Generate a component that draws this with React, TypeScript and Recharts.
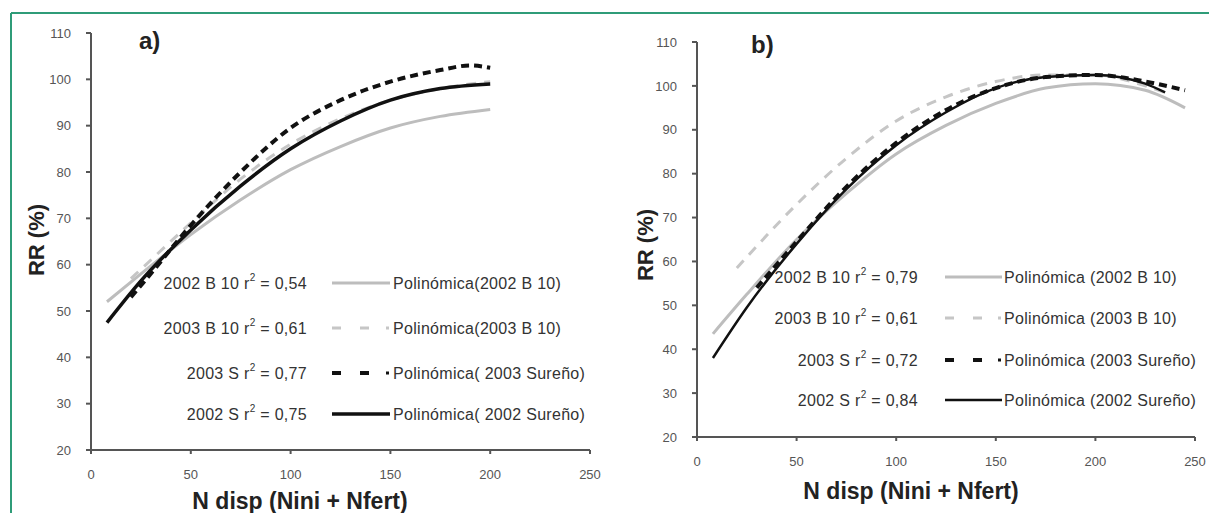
import React from "react";
import { LineChart, Line, XAxis, YAxis } from "recharts";

const FONT = "'Liberation Sans', Arial, sans-serif";

const xTicks = [0, 50, 100, 150, 200, 250];
const yTicks = [20, 30, 40, 50, 60, 70, 80, 90, 100, 110];

// panel a) curves (N disp vs RR %)
const aX2002B10 = [8, 25, 50, 75, 100, 125, 150, 175, 200];
const aY2002B10 = [52, 58, 66.5, 74, 80.5, 85.5, 89.5, 92, 93.5];
const aX2003B10 = [20, 25, 50, 75, 100, 125, 150, 175, 200];
const aY2003B10 = [57, 59, 69, 78.5, 86, 91.5, 95.5, 98, 99.5];
const aX2003S = [20, 25, 50, 75, 100, 125, 150, 175, 190, 200];
const aY2003S = [53, 55.5, 68.5, 80, 89.5, 95.5, 99.5, 102, 103, 102.5];
const aX2002S = [8, 25, 50, 75, 100, 125, 150, 175, 200];
const aY2002S = [47.5, 56.5, 67.5, 77, 85, 91, 95.5, 98, 99];

// panel b) curves
const bX2002B10 = [8, 25, 50, 75, 100, 125, 150, 175, 200, 225, 245];
const bY2002B10 = [43.5, 52.5, 65, 75.5, 84.5, 91, 96, 99.5, 100.5, 99, 95];
const bX2003B10 = [20, 25, 50, 75, 100, 125, 150, 175, 200, 225, 235];
const bY2003B10 = [58.5, 61, 73, 83.5, 92, 97.5, 101, 102.5, 102.5, 100, 98.5];
const bX2003S = [30, 50, 75, 100, 125, 150, 175, 200, 225, 245];
const bY2003S = [54, 64.5, 77, 87, 94.5, 99.5, 102, 102.5, 101, 99];
const bX2002S = [8, 25, 50, 75, 100, 125, 150, 175, 200, 225, 235];
const bY2002S = [38, 49.5, 64, 76.5, 86.5, 94, 99.5, 102, 102.5, 100.5, 98.5];

const aLabels = ["2002 B 10", "2003 B 10", "2003 S", "2002 S"];
const aR2 = ["0,54", "0,61", "0,77", "0,75"];
const aNames = [
  "Polinómica(2002 B 10)",
  "Polinómica(2003 B 10)",
  "Polinómica( 2003 Sureño)",
  "Polinómica( 2002 Sureño)",
];
const bLabels = ["2002 B 10", "2003 B 10", "2003 S", "2002 S"];
const bR2 = ["0,79", "0,61", "0,72", "0,84"];
const bNames = [
  "Polinómica (2002 B 10)",
  "Polinómica (2003 B 10)",
  "Polinómica (2003 Sureño)",
  "Polinómica (2002 Sureño)",
];

const pts = (xs: number[], ys: number[]) => xs.map((x, i) => ({ x, y: ys[i] }));

const styles = [
  { stroke: "#bdbdbd", width: 3, dash: undefined as string | undefined },
  { stroke: "#c6c6c6", width: 3, dash: "10 8" },
  { stroke: "#111", width: 4, dash: "8 5" },
  { stroke: "#111", width: 3.5, dash: undefined as string | undefined },
];

function Panel({
  left,
  width,
  margin,
  series,
  thin,
}: {
  left: number;
  width: number;
  margin: { top: number; right: number; bottom: number; left: number };
  series: { x: number; y: number }[][];
  thin?: boolean;
}) {
  return (
    <div style={{ position: "absolute", left, top: 0 }}>
      <LineChart width={width} height={513} margin={margin}>
        <XAxis
          dataKey="x"
          type="number"
          domain={[0, 250]}
          ticks={xTicks}
          allowDuplicatedCategory={false}
          stroke="#555"
          strokeWidth={2}
          tickSize={4}
          tickMargin={16}
          tick={{ fontSize: 13, fill: "#555", fontFamily: FONT }}
          height={30}
        />
        <YAxis
          type="number"
          domain={[20, 110]}
          ticks={yTicks}
          stroke="#555"
          strokeWidth={2}
          tickSize={5}
          tickMargin={15}
          tick={{ fontSize: 13, fill: "#555", fontFamily: FONT }}
          width={40}
        />
        {series.map((d, i) => (
          <Line
            key={i}
            data={d}
            dataKey="y"
            type="monotone"
            stroke={styles[i].stroke}
            strokeWidth={thin && i === 3 ? 2.5 : styles[i].width}
            strokeDasharray={styles[i].dash}
            dot={false}
            isAnimationActive={false}
          />
        ))}
      </LineChart>
    </div>
  );
}

function LegendBlock({
  rows,
  labelRight,
  x1,
  x2,
  textX,
  labels,
  r2,
  names,
  thin,
}: {
  rows: number[];
  labelRight: number;
  x1: number;
  x2: number;
  textX: number;
  labels: string[];
  r2: string[];
  names: string[];
  thin?: boolean;
}) {
  return (
    <g fontFamily={FONT} fontSize={16} letterSpacing={0.3} fill="#333">
      {rows.map((y, i) => {
        const s = styles[i];
        const dashed = !!s.dash;
        return (
          <g key={i}>
            <text x={labelRight} y={y} textAnchor="end" dominantBaseline="central">
              {labels[i]} r
              <tspan fontSize={10} dy={-6}>2</tspan>
              <tspan dy={6}> = {r2[i]}</tspan>
            </text>
            <line
              x1={x1}
              x2={dashed ? x2 - 6 : x2}
              y1={y}
              y2={y}
              stroke={s.stroke}
              strokeWidth={thin && i === 3 ? 2.5 : s.width}
              strokeDasharray={dashed ? "9 19" : undefined}
            />
            {dashed && <rect x={x2 - 4} y={y - 1.5} width={3} height={3} fill={s.stroke} />}
            <text x={textX} y={y} dominantBaseline="central">
              {names[i]}
            </text>
          </g>
        );
      })}
    </g>
  );
}

export default function App() {
  const aSeries = [
    pts(aX2002B10, aY2002B10),
    pts(aX2003B10, aY2003B10),
    pts(aX2003S, aY2003S),
    pts(aX2002S, aY2002S),
  ];
  const bSeries = [
    pts(bX2002B10, bY2002B10),
    pts(bX2003B10, bY2003B10),
    pts(bX2003S, bY2003S),
    pts(bX2002S, bY2002S),
  ];
  return (
    <div
      style={{
        position: "fixed",
        left: 0,
        top: 0,
        width: 1209,
        height: 513,
        background: "#fff",
        overflow: "hidden",
      }}
    >
      <Panel
        left={0}
        width={605}
        margin={{ top: 33, right: 15, bottom: 33, left: 51 }}
        series={aSeries}
      />
      <Panel
        left={605}
        width={604}
        margin={{ top: 42, right: 14, bottom: 46, left: 52 }}
        series={bSeries}
        thin
      />
      <svg
        width={1209}
        height={513}
        style={{ position: "absolute", left: 0, top: 0, pointerEvents: "none" }}
      >
        <line x1={11} y1={13} x2={1209} y2={13} stroke="#2f9c78" strokeWidth={2} />
        <line x1={11} y1={13} x2={11} y2={513} stroke="#2f9c78" strokeWidth={2} />

        <g fontFamily={FONT} fontWeight="bold" fill="#222">
          <text x={139} y={40} fontSize={24} dominantBaseline="central">a)</text>
          <text x={751} y={44} fontSize={24} dominantBaseline="central">b)</text>
          <text x={300} y={501} fontSize={23} textAnchor="middle" dominantBaseline="central">
            N disp (Nini + Nfert)
          </text>
          <text x={911} y={491} fontSize={23} textAnchor="middle" dominantBaseline="central">
            N disp (Nini + Nfert)
          </text>
          <text
            x={36}
            y={240}
            fontSize={22}
            textAnchor="middle"
            dominantBaseline="central"
            transform="rotate(-90 36 240)"
          >
            RR (%)
          </text>
          <text
            x={645}
            y={245}
            fontSize={22}
            textAnchor="middle"
            dominantBaseline="central"
            transform="rotate(-90 645 245)"
          >
            RR (%)
          </text>
        </g>

        <LegendBlock
          rows={[283, 328, 373, 414]}
          labelRight={307}
          x1={332}
          x2={390}
          textX={393}
          labels={aLabels}
          r2={aR2}
          names={aNames}
        />
        <LegendBlock
          rows={[277, 318, 360, 400]}
          labelRight={918}
          x1={945}
          x2={1002}
          textX={1004}
          labels={bLabels}
          r2={bR2}
          names={bNames}
          thin
        />
      </svg>
    </div>
  );
}
